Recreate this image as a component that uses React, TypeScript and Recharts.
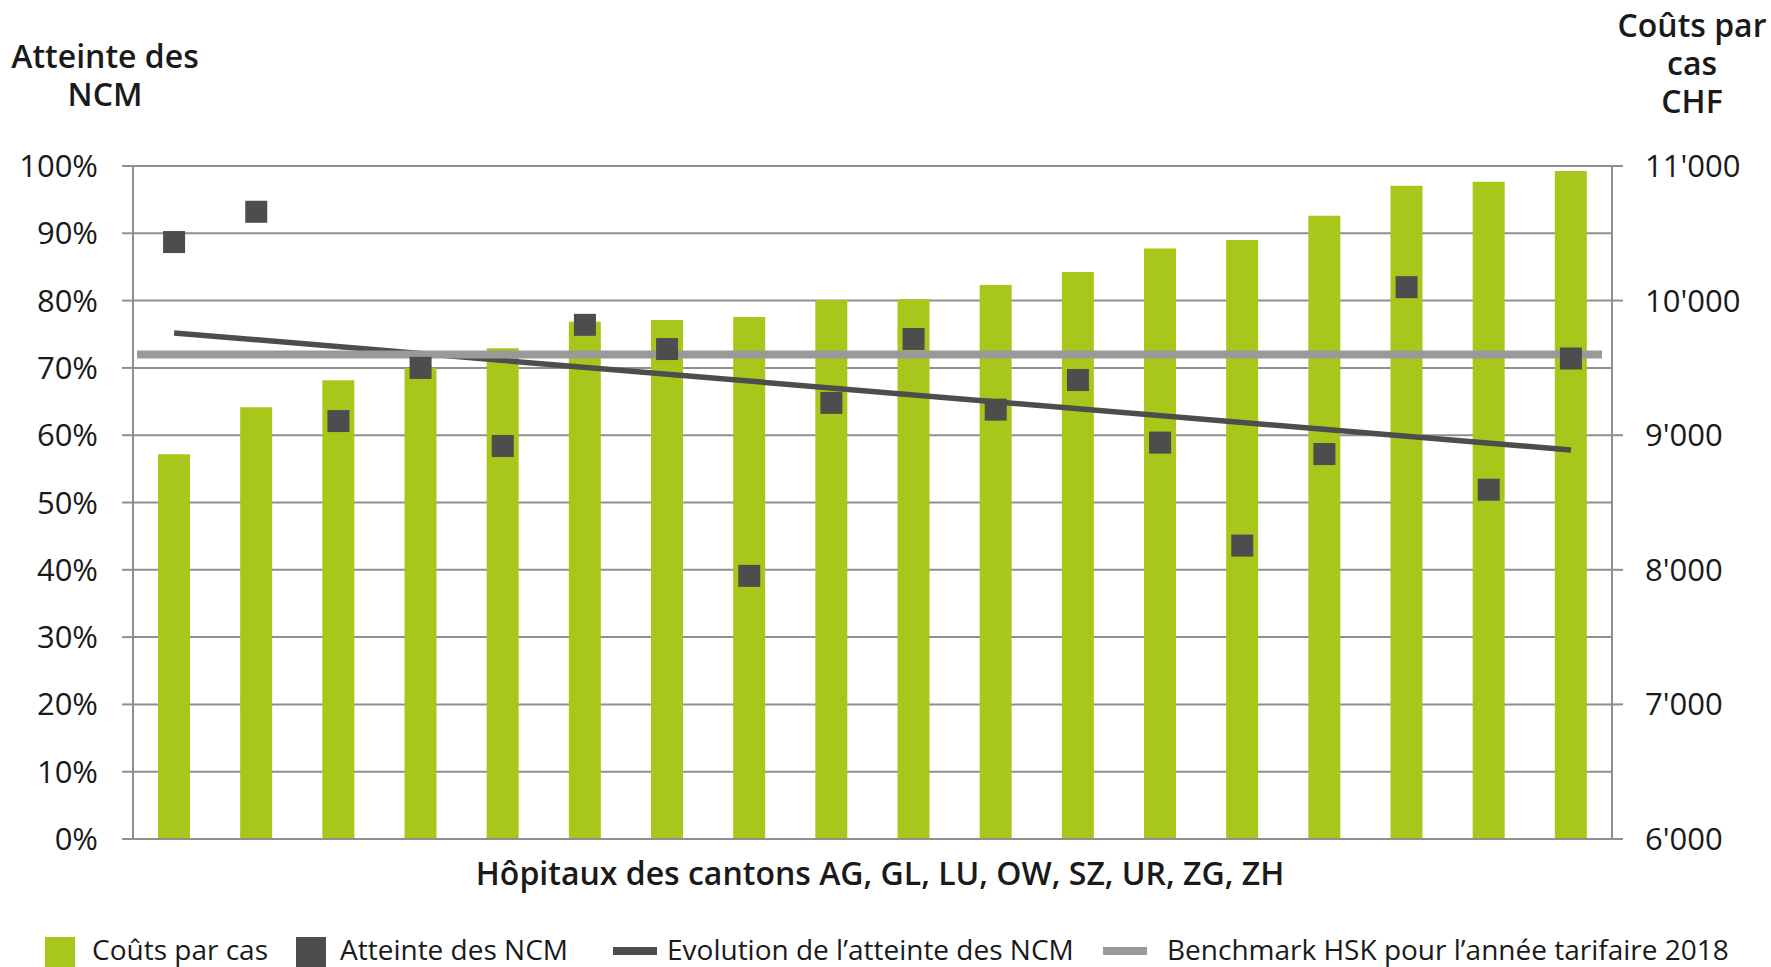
import React from 'react';
import { ComposedChart, Bar, Line, XAxis, YAxis, CartesianGrid, ReferenceLine, Legend } from 'recharts';

const categories = ['1', '2', '3', '4', '5', '6', '7', '8', '9', '10', '11', '12', '13', '14', '15', '16', '17', '18'];
const costs = [8858, 9207, 9408, 9497, 9646, 9843, 9856, 9878, 10004, 10010, 10116, 10212, 10388, 10450, 10631, 10854, 10883, 10963];
const ncm = [88.7, 93.2, 62.1, 70.0, 58.4, 76.4, 72.8, 39.1, 64.8, 74.3, 63.8, 68.2, 58.9, 43.6, 57.2, 82.0, 51.9, 71.4];
const trend: (number | null)[] = [75.2, null, null, null, null, null, null, null, null, null, null, null, null, null, null, null, null, 57.8];
const benchmark = 9600;
const leftTicks = [0, 10, 20, 30, 40, 50, 60, 70, 80, 90, 100];
const rightTicks = [6000, 7000, 8000, 9000, 10000, 11000];
const leftTitle = ['Atteinte des', 'NCM'];
const rightTitle = ['Coûts par', 'cas', 'CHF'];
const xTitle = 'Hôpitaux des cantons AG, GL, LU, OW, SZ, UR, ZG, ZH';
const legendLabels = ['Coûts par cas', 'Atteinte des NCM', 'Evolution de l’atteinte des NCM', 'Benchmark HSK pour l’année tarifaire 2018'];

const GREEN = '#A7C71B';
const DARK = '#4D4D4D';
const BENCH = '#999999';
const GRID = '#8F8F8F';
const FONT = '"Open Sans", "Noto Sans", sans-serif';

const data = categories.map((c, i) => ({ cat: c, cost: costs[i], ncm: ncm[i], trend: trend[i] }));

const fmtThousands = (v: number) => String(v).replace(/\B(?=(\d{3})+(?!\d))/g, "'");

const SquareDot = (props: any) => {
  const { cx, cy, index } = props;
  if (cx == null || cy == null) return <g key={`sq-${index}`} />;
  return <rect key={`sq-${index}`} x={cx - 11} y={cy - 11} width={22} height={22} fill={DARK} />;
};

const BenchShape = (props: any) => {
  const { x1, y1, x2, y2 } = props;
  if (x1 == null || x2 == null) return <g />;
  const left = Math.min(x1, x2);
  const right = Math.max(x1, x2);
  return <line x1={left + 4} y1={y1} x2={right - 10} y2={y2} stroke={BENCH} strokeWidth={8} />;
};

const LegendContent = () => (
  <svg width={1771} height={40} style={{ display: 'block' }}>
    <rect x={45} y={10} width={30} height={30} fill={GREEN} />
    <text x={92} y={33} fontSize={28} fontFamily={FONT} fill="#1a1a1a">{legendLabels[0]}</text>
    <rect x={296} y={10} width={30} height={30} fill={DARK} />
    <text x={340} y={33} fontSize={28} fontFamily={FONT} fill="#1a1a1a">{legendLabels[1]}</text>
    <rect x={613} y={20} width={44} height={8} fill={DARK} />
    <text x={667} y={33} fontSize={28} fontFamily={FONT} fill="#1a1a1a">{legendLabels[2]}</text>
    <rect x={1103} y={20} width={44} height={8} fill={BENCH} />
    <text x={1167} y={33} fontSize={28} fontFamily={FONT} fill="#1a1a1a">{legendLabels[3]}</text>
  </svg>
);

const titleProps = { textAnchor: 'middle' as const, fontSize: 32, fontWeight: 600, fontFamily: FONT, fill: '#1a1a1a' };

export default function App() {
  return (
    <div style={{ position: 'absolute', left: 0, top: 0, width: 1771, height: 967, background: '#fff' }}>
      <ComposedChart width={1771} height={967} data={data} margin={{ top: 166, right: 0, bottom: 0, left: 0 }}>
        <CartesianGrid yAxisId="left" vertical={false} stroke={GRID} strokeWidth={2} />
        <XAxis
          dataKey="cat"
          height={88}
          tick={false}
          tickLine={false}
          axisLine={{ stroke: GRID, strokeWidth: 2 }}
          label={{
            content: () => (
              <text x={880} y={885} {...titleProps}>
                {xTitle}
              </text>
            ),
          }}
        />
        <YAxis
          yAxisId="left"
          width={133}
          domain={[0, 100]}
          ticks={leftTicks}
          interval={0}
          tickFormatter={(v: number) => `${v}%`}
          tickSize={11}
          tickMargin={24}
          tick={{ fontSize: 31, fontFamily: FONT, fill: '#1a1a1a' }}
          tickLine={{ stroke: GRID, strokeWidth: 2 }}
          axisLine={{ stroke: GRID, strokeWidth: 2 }}
          label={{
            content: () => (
              <g>
                <text x={105} y={68} {...titleProps}>{leftTitle[0]}</text>
                <text x={105} y={106} {...titleProps}>{leftTitle[1]}</text>
              </g>
            ),
          }}
        />
        <YAxis
          yAxisId="right"
          orientation="right"
          width={159}
          domain={[6000, 11000]}
          ticks={rightTicks}
          interval={0}
          tickFormatter={fmtThousands}
          tickSize={11}
          tickMargin={22}
          tick={{ fontSize: 31, fontFamily: FONT, fill: '#1a1a1a' }}
          tickLine={{ stroke: GRID, strokeWidth: 2 }}
          axisLine={{ stroke: GRID, strokeWidth: 2 }}
          label={{
            content: () => (
              <g>
                <text x={1692} y={37} {...titleProps}>{rightTitle[0]}</text>
                <text x={1692} y={75} {...titleProps}>{rightTitle[1]}</text>
                <text x={1692} y={113} {...titleProps}>{rightTitle[2]}</text>
              </g>
            ),
          }}
        />
        <Legend verticalAlign="bottom" height={40} content={LegendContent} wrapperStyle={{ left: 0, bottom: 0, width: 1771, height: 40 }} />
        <Bar yAxisId="right" dataKey="cost" fill={GREEN} barSize={32} isAnimationActive={false} />
        <Line yAxisId="left" dataKey="ncm" stroke="none" strokeWidth={0} dot={SquareDot} activeDot={false} isAnimationActive={false} />
        <Line yAxisId="left" dataKey="trend" stroke={DARK} strokeWidth={5.5} dot={false} activeDot={false} connectNulls isAnimationActive={false} />
        <ReferenceLine yAxisId="right" y={benchmark} stroke={BENCH} strokeWidth={8} shape={BenchShape} />
      </ComposedChart>
    </div>
  );
}
